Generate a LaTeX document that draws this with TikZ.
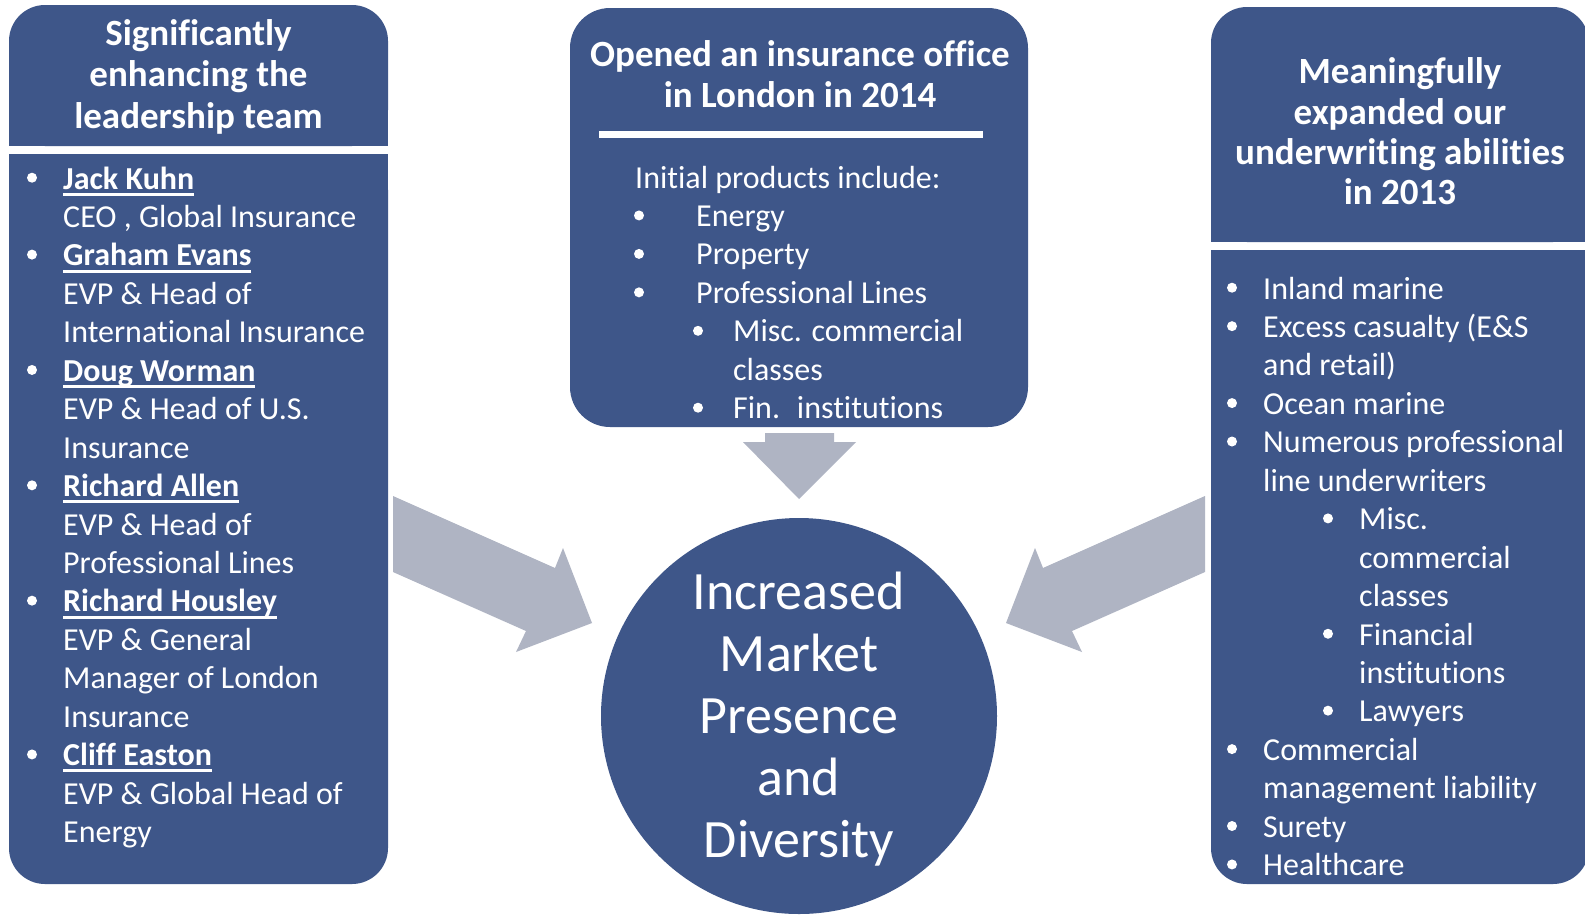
\documentclass[tikz,border=0pt]{standalone}
\usepackage{fontspec}
\setmainfont{Carlito}[Ligatures={NoCommon,NoContextual}]
\definecolor{panelblue}{RGB}{62,86,137}
\definecolor{arrowgrey}{RGB}{175,180,195}
\newcommand\nolig{\kern0pt }
\newcommand\nameul[1]{\setbox0=\hbox{#1}\rlap{\rule[-6.7pt]{\wd0}{3pt}}\box0}
\tikzset{
  panel/.style={fill=panelblue},
  blockarrow/.style={fill=arrowgrey},
  hdr/.style={text=white, font=\fontsize{37}{40}\selectfont\bfseries, anchor=base, inner sep=0pt},
  body/.style={text=white, font=\fontsize{32}{38}\selectfont, anchor=base west, inner sep=0pt},
  dot/.style={fill=white},
  hubtext/.style={text=white, align=center, inner sep=0pt, font=\fontsize{54}{62}\selectfont},
}
\begin{document}
\begin{tikzpicture}[x=1pt,y=-1pt]
\useasboundingbox (0,0) rectangle (1585,914);
\clip (0,0) rectangle (1585,914);
\fill[white] (0,0) rectangle (1585,914);

% ---------- left panel ----------
\fill[panel, rounded corners=36pt] (9,5) rectangle (388,146);
\fill[panel] (9,100) rectangle (388,146);
\fill[panel, rounded corners=36pt] (9,154) rectangle (388,884);
\fill[panel] (9,154) rectangle (388,210);
\node[hdr] (lh1) at (198.5,45) {Signif\nolig icantly};
\node[hdr] (lh2) at (198.5,86.5) {enhancing the};
\node[hdr] (lh3) at (198.5,128) {leadership team};
\foreach \k/\s in {
  0/{\nameul{\bfseries Jack Kuhn}},
  1/{CEO , Global Insurance},
  2/{\nameul{\bfseries Graham Evans}},
  3/{EVP \& Head of},
  4/{Internat\nolig ional Insurance},
  5/{\nameul{\bfseries Doug Worman}},
  6/{EVP \& Head of U.S.},
  7/{Insurance},
  8/{\nameul{\bfseries Richard Allen}},
  9/{EVP \& Head of},
  10/{Professional Lines},
  11/{\nameul{\bfseries Richard Housley}},
  12/{EVP \& General},
  13/{Manager of London},
  14/{Insurance},
  15/{\nameul{\bfseries Cliff Easton}},
  16/{EVP \& Global Head of},
  17/{Energy}}
  \node[body] (L\k) at (63,189+38.45*\k) {\s};
\foreach \k in {0,2,5,8,11,15}
  \fill[dot] (32,177.7+38.45*\k) circle (5pt);

% ---------- middle panel ----------
\fill[panel, rounded corners=40pt] (570,8) rectangle (1028,427);
\fill[white] (599,131) rectangle (983,138);
\node[hdr] (mh1) at (800,66) {Opened an insurance of\nolig f\nolig ice};
\node[hdr] (mh2) at (800,107) {in London in 2014};
\node[body] (M0) at (635,188) {Init\nolig ial products include:};
\foreach \k/\s in {1/Energy, 2/Property, 3/{Professional Lines}}
  \node[body] (M\k) at (696,188+38.45*\k) {\s};
\foreach \k/\s in {4/{Misc. commercial}, 5/classes, 6/{Fin.~ inst\nolig itut\nolig ions}}
  \node[body] (M\k) at (733,188+38.45*\k) {\s};
\foreach \k in {1,2,3}
  \fill[dot] (639,177+38.45*\k) circle (5pt);
\foreach \k in {4,6}
  \fill[dot] (698,177+38.45*\k) circle (5pt);

% ---------- right panel ----------
\fill[panel, rounded corners=36pt] (1211,7) rectangle (1589,242);
\fill[panel] (1211,150) rectangle (1589,242);
\fill[panel, rounded corners=36pt] (1211,250) rectangle (1589,884);
\fill[panel] (1211,250) rectangle (1589,320);
\node[hdr] (rh1) at (1400,83) {Meaningfully};
\node[hdr] (rh2) at (1400,124) {expanded our};
\node[hdr] (rh3) at (1400,164) {underwrit\nolig ing abilit\nolig ies};
\node[hdr] (rh4) at (1400,204) {in 2013};
\foreach \k/\s in {
  0/{Inland marine},
  1/{Excess casualty (E\&S},
  2/{and retail)},
  3/{Ocean marine},
  4/{Numerous professional},
  5/{line underwriters},
  12/{Commercial},
  13/{management liability},
  14/{Surety},
  15/{Healthcare}}
  \node[body] (R\k) at (1263,299+38.45*\k) {\s};
\foreach \k/\s in {
  6/{Misc.},
  7/{commercial},
  8/{classes},
  9/{Financial},
  10/{inst\nolig itut\nolig ions},
  11/{Lawyers}}
  \node[body] (R\k) at (1359,299+38.45*\k) {\s};
\foreach \k in {0,1,3,4,12,14,15}
  \fill[dot] (1232,287.7+38.45*\k) circle (5pt);
\foreach \k in {6,9,11}
  \fill[dot] (1328,287.7+38.45*\k) circle (5pt);

% ---------- block arrows ----------
\fill[blockarrow] (765,433) -- (834,433) -- (834,442) -- (856,442) -- (799,499)
  -- (743,442) -- (765,442) -- cycle;
\fill[blockarrow] (393,496) -- (555,568) -- (563,548) -- (592,623) -- (516,652)
  -- (526,631) -- (393,572) -- cycle;
\fill[blockarrow] (1205,496) -- (1043,568) -- (1035,548) -- (1006,623) -- (1082,652)
  -- (1072,631) -- (1205,572) -- cycle;

% ---------- hub ----------
\node[circle, fill=panelblue, minimum size=396pt, inner sep=0pt] (hub) at (799,716) {};
\node[hubtext, yshift=-3pt] (hublabel) at (hub.center)
  {Increased\\Market\\Presence\\and\\Diversity};
\end{tikzpicture}
\end{document}
